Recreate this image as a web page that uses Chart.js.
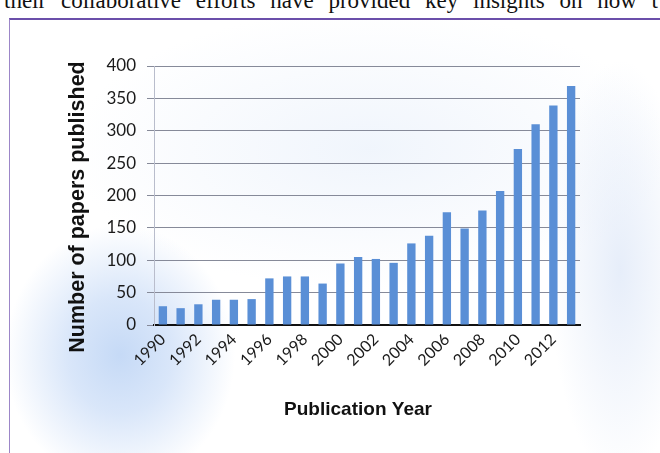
<!DOCTYPE html>
<html>
<head>
<meta charset="utf-8">
<script src="https://cdn.jsdelivr.net/npm/chart.js@4.4.1/dist/chart.umd.min.js"></script>
<style>
  body { margin: 0; width: 660px; height: 453px; overflow: hidden; background: #fff; position: relative; }
  .intro {
    position: absolute; left: 4px; top: -10px; width: 654px;
    font-family: "Liberation Serif", "DejaVu Serif", serif; font-size: 23px; line-height: 22px;
    color: #111; text-align: justify; text-align-last: justify; white-space: nowrap;
  }
  .frame {
    position: absolute; left: 9px; top: 18px; right: -5px; bottom: -5px;
    border-top: 2px solid #6b4faa; border-left: 1px solid #9c86c8;
    background:
      radial-gradient(ellipse 115px 130px at 110px 335px, rgba(178,205,243,0.75), rgba(186,210,245,0.55) 45%, rgba(210,225,248,0) 100%),
      radial-gradient(ellipse 70px 210px at 610px 250px, rgba(214,226,246,0.6), rgba(225,235,250,0) 100%),
      radial-gradient(ellipse 300px 140px at 360px 130px, rgba(228,237,250,0.55), rgba(235,242,252,0) 100%);
  }
  #wrap { position: absolute; left: 0; top: 0; width: 660px; height: 453px; }
</style>
</head>
<body>
<div class="intro">their collaborative efforts have provided key insights on how t</div>
<div class="frame"></div>
<div id="wrap"><canvas id="chart"></canvas></div>
<script>
const years = ["1990","1991","1992","1993","1994","1995","1996","1997","1998","1999","2000","2001",
  "2002","2003","2004","2005","2006","2007","2008","2009","2010","2011","2012","2013"];
const papers = [29, 26, 32, 39, 39, 40, 72, 75, 75, 64, 95, 105,
  102, 96, 126, 138, 174, 149, 177, 207, 272, 310, 339, 369];
const yTicks = [0, 50, 100, 150, 200, 250, 300, 350, 400];
const xTitle = "Publication Year";
const yTitle = "Number of papers published";

// axis titles sit a little off the plot centre in the original, so place them by hand
const titlesPlugin = {
  id: "axisTitles",
  afterDraw(chart) {
    const c = chart.ctx;
    c.save();
    c.fillStyle = "#111";
    c.textAlign = "center";
    c.textBaseline = "middle";
    c.font = "bold 19px 'Liberation Sans', Arial, sans-serif";
    c.fillText(xTitle, 358, 410);
    c.translate(78, 207);
    c.rotate(-Math.PI / 2);
    c.font = "bold 21.5px 'Liberation Sans', Arial, sans-serif";
    c.fillText(yTitle, 0, 0);
    c.restore();
  }
};

const ctx = document.getElementById("chart").getContext("2d");
new Chart(ctx, {
  type: "bar",
  data: {
    labels: years,
    datasets: [{
      data: papers,
      backgroundColor: "#5a8fd6",
      borderWidth: 0,
      barPercentage: 0.94,
      categoryPercentage: 0.5
    }]
  },
  options: {
    responsive: true,
    maintainAspectRatio: false,
    animation: false,
    layout: { padding: { left: 62, right: 80, top: 66, bottom: 28 } },
    plugins: { legend: { display: false }, tooltip: { enabled: false } },
    scales: {
      x: {
        afterFit: (s) => { s.height = 100; },
        grid: { display: false, drawTicks: false },
        border: { color: "#111", width: 2 },
        ticks: {
          autoSkip: false, maxRotation: 45, minRotation: 45, padding: 5,
          color: "#1a1a1a", font: { family: "Lato, 'Open Sans', sans-serif", size: 16 },
          callback: (v, i) => (i % 2 === 0 ? years[i] : "")
        }
      },
      y: {
        min: 0, max: 400,
        afterFit: (s) => { s.width = 92; },
        afterBuildTicks: (s) => { s.ticks = yTicks.map(v => ({ value: v })); },
        grid: { color: "#868a99", lineWidth: 1, tickLength: 7 },
        border: { color: "#b9bdcc", width: 1 },
        ticks: {
          padding: 11, color: "#1a1a1a",
          font: { family: "Lato, 'Open Sans', sans-serif", size: 17 }
        }
      }
    }
  },
  plugins: [titlesPlugin]
});
</script>
</body>
</html>
